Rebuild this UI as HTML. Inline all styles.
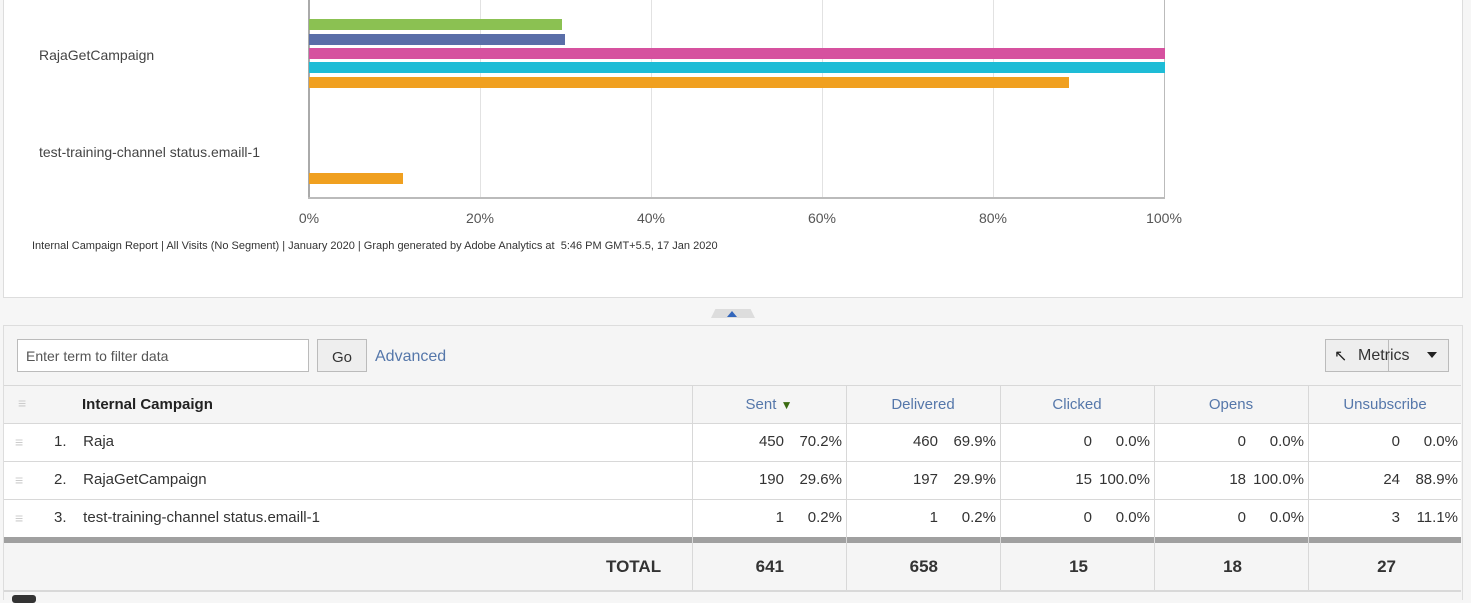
<!DOCTYPE html>
<html><head><meta charset="utf-8"><style>
body{margin:0;width:1471px;height:599px;background:#f6f6f6;position:relative;overflow:hidden;font-family:"Liberation Sans",sans-serif}
.a{position:absolute}
.chart{left:3px;top:-2px;width:1458px;height:298px;background:#fff;border:1px solid #ddd}
.g{position:absolute;top:0;width:1px;height:198px;background:#e2e2e2}
.bar{position:absolute;left:309px;height:11px}
.lbl{font-size:14px;color:#444}
.tick{position:absolute;top:210px;font-size:14px;color:#555;width:60px;text-align:center}
.tbl{left:3px;top:325px;width:1458px;height:274px;background:#f5f5f5;border:1px solid #ddd;border-bottom:none}
.cell{position:absolute;font-family:"Liberation Sans",sans-serif;font-size:15px;color:#333}
.hl{position:absolute;height:1px;background:#d8d8d8}
.vl{position:absolute;width:1px;background:#d8d8d8}
.hd{position:absolute;top:396px;font-size:15px;color:#5577aa;text-align:center;width:154px}
.n{position:absolute;font-size:15px;color:#333;text-align:right}
</style></head><body>
<div class="a chart"></div>
<div class="g" style="left:480px"></div><div class="g" style="left:651px"></div><div class="g" style="left:822px"></div><div class="g" style="left:993px"></div>
<div class="g" style="left:1164px;background:#bbb"></div>
<div class="g" style="left:308px;background:#aaa;width:2px"></div>
<div class="a" style="left:308px;top:197px;width:857px;height:2px;background:#bbb"></div>
<div class="bar" style="top:19px;width:253px;background:#8bc152"></div>
<div class="bar" style="top:34px;width:256px;background:#5a6ea8"></div>
<div class="bar" style="top:48px;width:856px;background:#d6519f"></div>
<div class="bar" style="top:62px;width:856px;background:#1ebcd6"></div>
<div class="bar" style="top:77px;width:760px;background:#f0a020"></div>
<div class="bar" style="top:173px;width:94px;background:#f0a020"></div>
<div class="a lbl" style="left:39px;top:47px">RajaGetCampaign</div>
<div class="a lbl" style="left:39px;top:144px">test-training-channel status.emaill-1</div>
<div class="tick" style="left:279px">0%</div><div class="tick" style="left:450px">20%</div><div class="tick" style="left:621px">40%</div><div class="tick" style="left:792px">60%</div><div class="tick" style="left:963px">80%</div><div class="tick" style="left:1134px">100%</div>
<div class="a" style="left:32px;top:240px;font-size:11px;color:#333">Internal Campaign Report | All Visits (No Segment) | January 2020 | Graph generated by Adobe Analytics at &nbsp;5:46 PM GMT+5.5, 17 Jan 2020</div>
<div class="a" style="left:711px;top:309px;width:44px;height:9px;background:#ddd;clip-path:polygon(10% 0,90% 0,100% 100%,0 100%)"></div>
<div class="a" style="left:727px;top:311px;width:0;height:0;border-left:5px solid transparent;border-right:5px solid transparent;border-bottom:6px solid #3366bb"></div>
<div class="a tbl"></div>
<div class="a" style="left:17px;top:339px;width:290px;height:31px;background:#fff;border:1px solid #bbb"></div>
<div class="a" style="left:26px;top:348px;font-size:14px;color:#555">Enter term to filter data</div>
<div class="a" style="left:317px;top:339px;width:48px;height:31px;background:#eee;border:1px solid #bbb;font-size:15px;color:#333;text-align:center;line-height:36px">Go</div>
<div class="a" style="left:375px;top:348px;font-size:16px;color:#5577aa">Advanced</div>
<div class="a" style="left:1325px;top:339px;width:122px;height:31px;background:#eee;border:1px solid #bbb"></div>
<div class="a" style="left:1388px;top:340px;width:1px;height:31px;background:#bbb"></div>
<div class="a" style="left:1358px;top:347px;font-size:16px;color:#333">Metrics</div>
<div class="a" style="left:1334px;top:346px;font-size:16px;color:#222">&#x2196;</div>
<div class="a" style="left:1427px;top:352px;border-left:5px solid transparent;border-right:5px solid transparent;border-top:6px solid #222"></div>
<div class="a" style="left:4px;top:424px;width:1457px;height:114px;background:#fff"></div>
<div class="hl" style="left:4px;top:385px;width:1457px"></div>
<div class="hl" style="left:4px;top:423px;width:1457px"></div>
<div class="hl" style="left:4px;top:461px;width:1457px"></div>
<div class="hl" style="left:4px;top:499px;width:1457px"></div>
<div class="a" style="left:4px;top:537px;width:1457px;height:6px;background:#a0a0a0"></div>
<div class="hl" style="left:4px;top:590px;width:1457px;height:2px"></div>
<div class="vl" style="left:692px;top:386px;height:204px"></div><div class="vl" style="left:846px;top:386px;height:204px"></div><div class="vl" style="left:1000px;top:386px;height:204px"></div><div class="vl" style="left:1154px;top:386px;height:204px"></div><div class="vl" style="left:1308px;top:386px;height:204px"></div>
<div class="a" style="left:18px;top:395px;color:#ccc;font-size:14px">&#x2261;</div>
<div class="a" style="left:15px;top:434px;color:#ccc;font-size:14px">&#x2261;</div>
<div class="a" style="left:15px;top:472px;color:#ccc;font-size:14px">&#x2261;</div>
<div class="a" style="left:15px;top:510px;color:#ccc;font-size:14px">&#x2261;</div>
<div class="a" style="left:82px;top:396px;font-size:15px;color:#222;font-weight:bold">Internal Campaign</div>
<div class="a" style="left:54px;top:433px;font-size:15px;color:#333">1.&nbsp;&nbsp;&nbsp; Raja</div>
<div class="a" style="left:54px;top:471px;font-size:15px;color:#333">2.&nbsp;&nbsp;&nbsp; RajaGetCampaign</div>
<div class="a" style="left:54px;top:509px;font-size:15px;color:#333">3.&nbsp;&nbsp;&nbsp; test-training-channel status.emaill-1</div>
<div class="hd" style="left:692px">Sent <span style="color:#3a6a10;font-size:12px">&#x25BC;</span></div>
<div class="hd" style="left:846px">Delivered</div><div class="hd" style="left:1000px">Clicked</div><div class="hd" style="left:1154px">Opens</div><div class="hd" style="left:1308px">Unsubscribe</div>
<div class="n" style="left:692px;top:433px;width:92px">450</div><div class="n" style="left:692px;top:433px;width:150px">70.2%</div>
<div class="n" style="left:692px;top:471px;width:92px">190</div><div class="n" style="left:692px;top:471px;width:150px">29.6%</div>
<div class="n" style="left:692px;top:509px;width:92px">1</div><div class="n" style="left:692px;top:509px;width:150px">0.2%</div>
<div class="n" style="left:846px;top:433px;width:92px">460</div><div class="n" style="left:846px;top:433px;width:150px">69.9%</div>
<div class="n" style="left:846px;top:471px;width:92px">197</div><div class="n" style="left:846px;top:471px;width:150px">29.9%</div>
<div class="n" style="left:846px;top:509px;width:92px">1</div><div class="n" style="left:846px;top:509px;width:150px">0.2%</div>
<div class="n" style="left:1000px;top:433px;width:92px">0</div><div class="n" style="left:1000px;top:433px;width:150px">0.0%</div>
<div class="n" style="left:1000px;top:471px;width:92px">15</div><div class="n" style="left:1000px;top:471px;width:150px">100.0%</div>
<div class="n" style="left:1000px;top:509px;width:92px">0</div><div class="n" style="left:1000px;top:509px;width:150px">0.0%</div>
<div class="n" style="left:1154px;top:433px;width:92px">0</div><div class="n" style="left:1154px;top:433px;width:150px">0.0%</div>
<div class="n" style="left:1154px;top:471px;width:92px">18</div><div class="n" style="left:1154px;top:471px;width:150px">100.0%</div>
<div class="n" style="left:1154px;top:509px;width:92px">0</div><div class="n" style="left:1154px;top:509px;width:150px">0.0%</div>
<div class="n" style="left:1308px;top:433px;width:92px">0</div><div class="n" style="left:1308px;top:433px;width:150px">0.0%</div>
<div class="n" style="left:1308px;top:471px;width:92px">24</div><div class="n" style="left:1308px;top:471px;width:150px">88.9%</div>
<div class="n" style="left:1308px;top:509px;width:92px">3</div><div class="n" style="left:1308px;top:509px;width:150px">11.1%</div>
<div class="a" style="left:606px;top:557px;font-size:17px;font-weight:bold;color:#333">TOTAL</div>
<div class="n" style="left:692px;top:557px;width:92px;font-size:17px;font-weight:bold">641</div>
<div class="n" style="left:846px;top:557px;width:92px;font-size:17px;font-weight:bold">658</div>
<div class="n" style="left:1000px;top:557px;width:88px;font-size:17px;font-weight:bold">15</div>
<div class="n" style="left:1154px;top:557px;width:88px;font-size:17px;font-weight:bold">18</div>
<div class="n" style="left:1308px;top:557px;width:88px;font-size:17px;font-weight:bold">27</div>
<div class="a" style="left:12px;top:595px;width:24px;height:8px;background:#333;border-radius:3px"></div>
</body></html>
